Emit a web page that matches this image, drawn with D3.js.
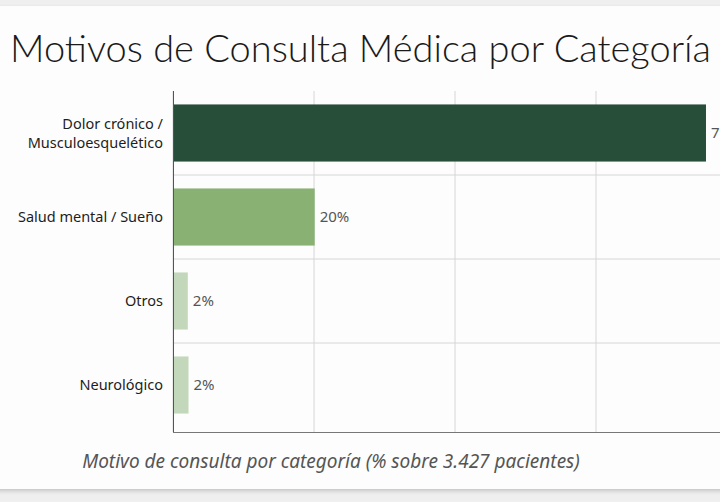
<!DOCTYPE html>
<html>
<head>
<meta charset="utf-8">
<script src="https://cdn.jsdelivr.net/npm/d3@7"></script>
<style>
  body { margin: 0; background: #efefef; overflow: hidden; width: 720px; height: 502px; }
  #card {
    position: absolute; left: -20px; top: 6px; width: 780px; height: 483px;
    background: #fdfdfd; box-shadow: 0 2px 4px rgba(0,0,0,0.18);
  }
  #chart { position: absolute; left: 0; top: 0; }
</style>
</head>
<body>
<div id="card"></div>
<div id="chart"></div>
<script>
// Data
const categories = ['Dolor crónico / Musculoesquelético', 'Salud mental / Sueño', 'Otros', 'Neurológico']
const labelLines = [['Dolor crónico /', 'Musculoesquelético'], ['Salud mental / Sueño'], ['Otros'], ['Neurológico']]
const values = [75.6, 20.1, 2.1, 2.2]
const colors = ['#264e39', '#89b173', '#c3d8bb', '#c3d8bb']
const xTicks = [0, 20, 40, 60, 80]

const dimensions = {
  width: 720,
  height: 502,
  margin: { top: 91, bottom: 70, left: 173, right: 0 }
}

const svg = d3.select('#chart')
  .append('svg')
  .attr('width', dimensions.width)
  .attr('height', dimensions.height)

// Title
svg.append('text')
  .attr('x', 10)
  .attr('y', 62)
  .attr('font-family', 'Lato')
  .attr('font-weight', 300)
  .attr('font-size', 38)
  .attr('fill', '#1a1a1a')
  .text('Motivos de Consulta Médica por Categoría')

// scales
const xScale = d3.scaleLinear()
  .domain([0, 20])
  .range([173, 314])

const yScale = d3.scaleBand()
  .domain(categories)
  .range([91, 427])
  .paddingInner(0.32)
  .paddingOuter(0.16)

const axisBottomY = 432

// grid
svg.append('g')
  .selectAll('line')
  .data(xTicks)
  .join('line')
  .attr('x1', d => xScale(d))
  .attr('x2', d => xScale(d))
  .attr('y1', 91)
  .attr('y2', axisBottomY)
  .attr('stroke', '#d6d6d6')
  .attr('stroke-width', 1)

const step = yScale.step()
svg.append('g')
  .selectAll('line')
  .data(categories.slice(1))
  .join('line')
  .attr('x1', 173)
  .attr('x2', 720)
  .attr('y1', d => yScale(d) - (step - yScale.bandwidth()) / 2)
  .attr('y2', d => yScale(d) - (step - yScale.bandwidth()) / 2)
  .attr('stroke', '#d6d6d6')
  .attr('stroke-width', 1)

// bars
svg.append('g')
  .selectAll('rect')
  .data(values)
  .join('rect')
  .attr('x', xScale(0))
  .attr('y', (d, i) => yScale(categories[i]))
  .attr('width', d => xScale(d) - xScale(0))
  .attr('height', yScale.bandwidth())
  .attr('fill', (d, i) => colors[i])

// value labels
svg.append('g')
  .selectAll('text')
  .data(values)
  .join('text')
  .attr('x', d => xScale(d) + 5)
  .attr('y', (d, i) => yScale(categories[i]) + yScale.bandwidth() / 2)
  .attr('dy', '0.35em')
  .attr('font-family', 'Noto Sans')
  .attr('font-size', 15)
  .attr('fill', '#555')
  .text(d => d3.format('.0f')(d) + '%')

// category labels
const catG = svg.append('g')
catG.selectAll('text')
  .data(labelLines)
  .join('text')
  .attr('text-anchor', 'end')
  .attr('font-family', 'Noto Sans')
  .attr('font-size', 14.5)
  .attr('fill', '#1e1e1e')
  .each(function (lines, i) {
    const cy = yScale(categories[i]) + yScale.bandwidth() / 2
    const lh = 19
    d3.select(this).selectAll('tspan')
      .data(lines)
      .join('tspan')
      .attr('x', 163)
      .attr('y', (l, j) => cy + (j - (lines.length - 1) / 2) * lh)
      .attr('dy', '0.35em')
      .text(l => l)
  })

// axes lines
svg.append('line')
  .attr('x1', 173.5).attr('x2', 173.5)
  .attr('y1', 91).attr('y2', axisBottomY)
  .attr('stroke', '#555')
svg.append('line')
  .attr('x1', 173).attr('x2', 720)
  .attr('y1', axisBottomY + 0.5).attr('y2', axisBottomY + 0.5)
  .attr('stroke', '#777')

// caption
svg.append('text')
  .attr('x', 331)
  .attr('y', 468)
  .attr('text-anchor', 'middle')
  .attr('font-family', 'Noto Sans')
  .attr('font-style', 'italic')
  .attr('font-size', 19)
  .attr('fill', '#555')
  .text('Motivo de consulta por categoría (% sobre 3.427 pacientes)')
</script>
</body>
</html>
